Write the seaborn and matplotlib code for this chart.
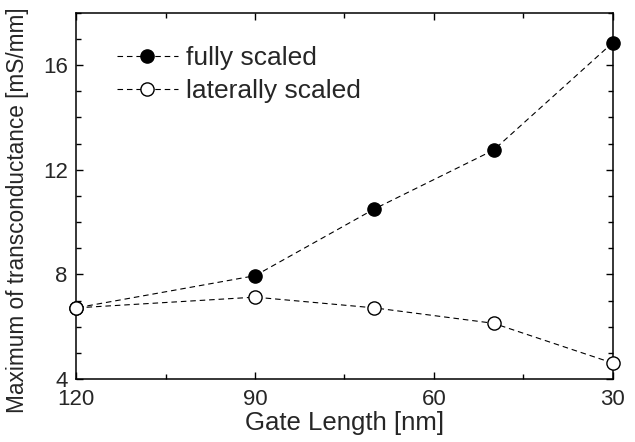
import matplotlib
matplotlib.use("Agg")
import matplotlib.pyplot as plt
import matplotlib.transforms as mtransforms
from matplotlib.ticker import MultipleLocator
import seaborn as sns
import pandas as pd

gate_length = [120, 90, 70, 50, 30]
fully_scaled = [6.72, 7.95, 10.5, 12.75, 16.86]
laterally_scaled = [6.72, 7.13, 6.72, 6.13, 4.61]

sns.set_style("ticks")
plt.rcParams["font.family"] = ["Liberation Sans", "DejaVu Sans"]

df = pd.DataFrame({
    "gate": gate_length * 2,
    "gm": fully_scaled + laterally_scaled,
    "series": ["fully scaled"] * 5 + ["laterally scaled"] * 5,
})

fig = plt.figure(figsize=(6.35, 4.42), dpi=100)
ax = fig.add_axes([0.12, 0.1425, 0.845, 0.8285])

face = {"fully scaled": "black", "laterally scaled": "white"}
for name, sub in df.groupby("series", sort=False):
    sns.lineplot(data=sub, x="gate", y="gm", ax=ax, color="black",
                 linestyle=(0, (5, 3.5)), linewidth=0.8, marker="o",
                 markersize=9.5, markeredgecolor="black",
                 markerfacecolor=face[name], markeredgewidth=1.0,
                 label=name, clip_on=False, zorder=3)

ax.set_xlim(120, 30)
ax.set_ylim(4, 18)
ax.xaxis.set_major_locator(MultipleLocator(30))
ax.xaxis.set_minor_locator(MultipleLocator(15))
ax.yaxis.set_major_locator(MultipleLocator(4))
ax.yaxis.set_minor_locator(MultipleLocator(1))
ax.tick_params(which="both", direction="in", top=True, right=True,
               labelsize=16, width=1.0, color="black")
ax.tick_params(axis="x", which="major", pad=7.5)
ax.tick_params(axis="y", which="major", pad=6)
ax.tick_params(which="major", length=5)
ax.tick_params(which="minor", length=3.6)
for s in ax.spines.values():
    s.set_linewidth(1.1)
    s.set_color("black")

ax.set_xlabel("Gate Length [nm]", fontsize=18.5, labelpad=0.5)
ax.set_ylabel("Maximum of transconductance [mS/mm]", fontsize=16.3)
ax.yaxis.set_label_coords(-0.088, 0.462)

# lift the lowest y label a little so it clears the "120" below it
fig.canvas.draw()
ylabels = ax.get_yticklabels()
lowest = ylabels[0]
lowest.set_transform(lowest.get_transform() +
                     mtransforms.ScaledTranslation(0, 2.5 / 72, fig.dpi_scale_trans))

ax.legend(loc="upper left", frameon=False, fontsize=19,
          bbox_to_anchor=(0.076, 0.91), borderaxespad=0, borderpad=0,
          handlelength=2.3, handletextpad=0.3, labelspacing=0.35)

fig.savefig("out.png", dpi=100)
